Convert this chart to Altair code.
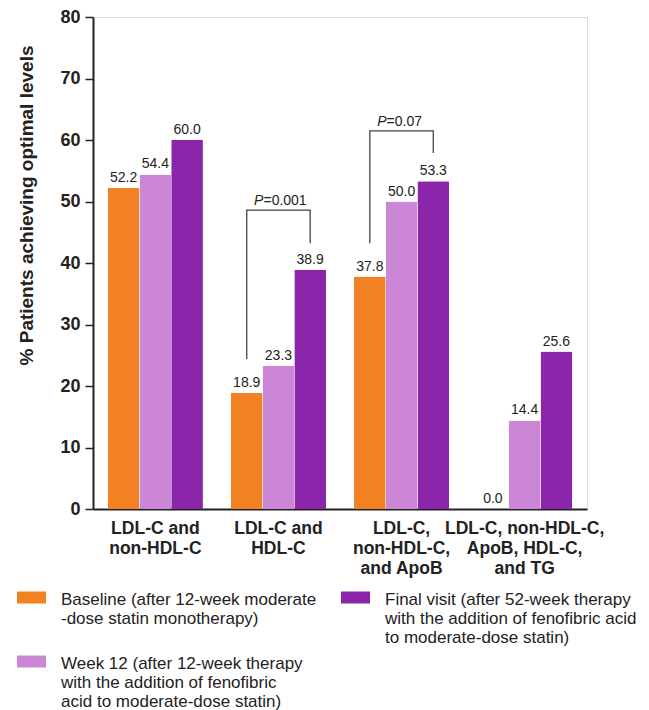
import altair as alt
import pandas as pd

# ---- data ----
categories = [
    "LDL-C and\nnon-HDL-C",
    "LDL-C and\nHDL-C",
    "LDL-C,\nnon-HDL-C,\nand ApoB",
    "LDL-C, non-HDL-C,\nApoB, HDL-C,\nand TG",
]
series = [
    "Baseline (after 12-week moderate\n-dose statin monotherapy)\n ",
    "Week 12 (after 12-week therapy\nwith the addition of fenofibric\nacid to moderate-dose statin)",
    "Final visit (after 52-week therapy\nwith the addition of fenofibric acid\nto moderate-dose statin)",
]
baseline = [52.2, 18.9, 37.8, 0.0]
week12 = [54.4, 23.3, 50.0, 14.4]
final_visit = [60.0, 38.9, 53.3, 25.6]
colors = ["#F28123", "#CB87D5", "#8B26AA"]

# significance brackets: (category index, left-leg bottom, top, right-leg bottom, p text)
bracket_cat = [1, 2]
bracket_left = [24.4, 43.2]
bracket_top = [48.6, 61.5]
bracket_right = [43.2, 57.9]
bracket_p = ["=0.001", "=0.07"]

# ---- tables ----
rows = []
for vals, s in zip([baseline, week12, final_visit], series):
    for c, v in zip(categories, vals):
        rows.append({"cat": c, "series": s, "value": v})
bars = pd.DataFrame(rows)

brows = []
for i, (ci, lb, tp, rb) in enumerate(zip(bracket_cat, bracket_left, bracket_top, bracket_right)):
    c = categories[ci]
    brows += [
        {"id": i, "ord": 0, "cat": c, "series": series[0], "value": lb},
        {"id": i, "ord": 1, "cat": c, "series": series[0], "value": tp},
        {"id": i, "ord": 2, "cat": c, "series": series[2], "value": tp},
        {"id": i, "ord": 3, "cat": c, "series": series[2], "value": rb},
    ]
brackets = pd.DataFrame(brows)
ptab = pd.DataFrame({
    "cat": [categories[i] for i in bracket_cat],
    "series": [series[1]] * len(bracket_cat),
    "value": bracket_top,
    "p": bracket_p,
})

FONT = "Liberation Sans"
INK = "#222222"

x_enc = alt.X(
    "cat:N", sort=categories, title=None,
    scale=alt.Scale(paddingInner=0.227, paddingOuter=0.12),
    axis=alt.Axis(
        labelExpr="split(datum.value, '\\n')", labelAngle=0, ticks=False,
        labelFontSize=17.5, labelFontWeight="bold", labelColor=INK, labelFont=FONT,
        labelLineHeight=20, labelPadding=10, domainColor=INK, domainWidth=2,
    ),
)
xo_enc = alt.XOffset("series:N", sort=series, scale=alt.Scale(paddingInner=0, paddingOuter=0))
y_scale = alt.Scale(domain=[0, 80], nice=False)

bar_layer = alt.Chart(bars).mark_bar(cornerRadiusTopLeft=1, cornerRadiusTopRight=1).encode(
    x=x_enc,
    xOffset=xo_enc,
    y=alt.Y(
        "value:Q", scale=y_scale, title="% Patients achieving optimal levels",
        axis=alt.Axis(
            values=[0, 10, 20, 30, 40, 50, 60, 70, 80], grid=False,
            labelFontSize=18, labelFontWeight="bold", labelColor=INK, labelFont=FONT,
            labelPadding=5, tickSize=8, tickWidth=1.5, tickColor=INK,
            domainColor=INK, domainWidth=2,
            titleFontSize=19, titleFontWeight="bold", titleColor=INK, titleFont=FONT,
            titleX=-67, titleY=188, titleBaseline="middle", titleAngle=-90,
        ),
    ),
    color=alt.Color(
        "series:N",
        scale=alt.Scale(domain=series, range=colors),
        legend=alt.Legend(
            title=None, orient="none", legendX=-76, legendY=565, columns=2,
            columnPadding=24, rowPadding=0,
            symbolType="M-1,-0.05H1.9V1.15H-1Z", symbolSize=400, symbolStrokeWidth=0,
            symbolOpacity=1, symbolOffset=0, labelOffset=24,
            labelExpr="split(datum.value, '\\n')", labelBaseline="top",
            labelFontSize=17, labelFont=FONT, labelColor=INK, labelLimit=0,
        ),
    ),
)

label_layer = alt.Chart(bars).mark_text(
    dy=-6, baseline="alphabetic", fontSize=14, font=FONT, color=INK
).encode(
    x=alt.X("cat:N", sort=categories),
    xOffset=alt.XOffset("series:N", sort=series),
    y=alt.Y("value:Q", scale=y_scale),
    text=alt.Text("value:Q", format=".1f"),
)

bracket_layer = alt.Chart(brackets).mark_line(color="#444444", strokeWidth=1.3).encode(
    x=alt.X("cat:N", sort=categories),
    xOffset=alt.XOffset("series:N", sort=series),
    y=alt.Y("value:Q", scale=y_scale),
    order="ord:Q",
    detail="id:N",
)

p_italic = alt.Chart(ptab).mark_text(
    dy=-5, dx=-15, align="right", baseline="alphabetic", fontSize=14, font=FONT,
    fontStyle="italic", color=INK, text="P",
).encode(
    x=alt.X("cat:N", sort=categories),
    xOffset=alt.XOffset("series:N", sort=series),
    y=alt.Y("value:Q", scale=y_scale),
)
p_value = alt.Chart(ptab).mark_text(
    dy=-5, dx=-15, align="left", baseline="alphabetic", fontSize=14, font=FONT, color=INK,
).encode(
    x=alt.X("cat:N", sort=categories),
    xOffset=alt.XOffset("series:N", sort=series),
    y=alt.Y("value:Q", scale=y_scale),
    text="p:N",
)

chart = alt.layer(bar_layer, label_layer, bracket_layer, p_italic, p_value).properties(
    width=494, height=492,
    padding={"left": 9, "top": 0, "right": 0, "bottom": 0},
).configure_view(stroke=None).configure(font=FONT)

chart.save("out.html", embed_options={"renderer": "svg", "actions": False})
